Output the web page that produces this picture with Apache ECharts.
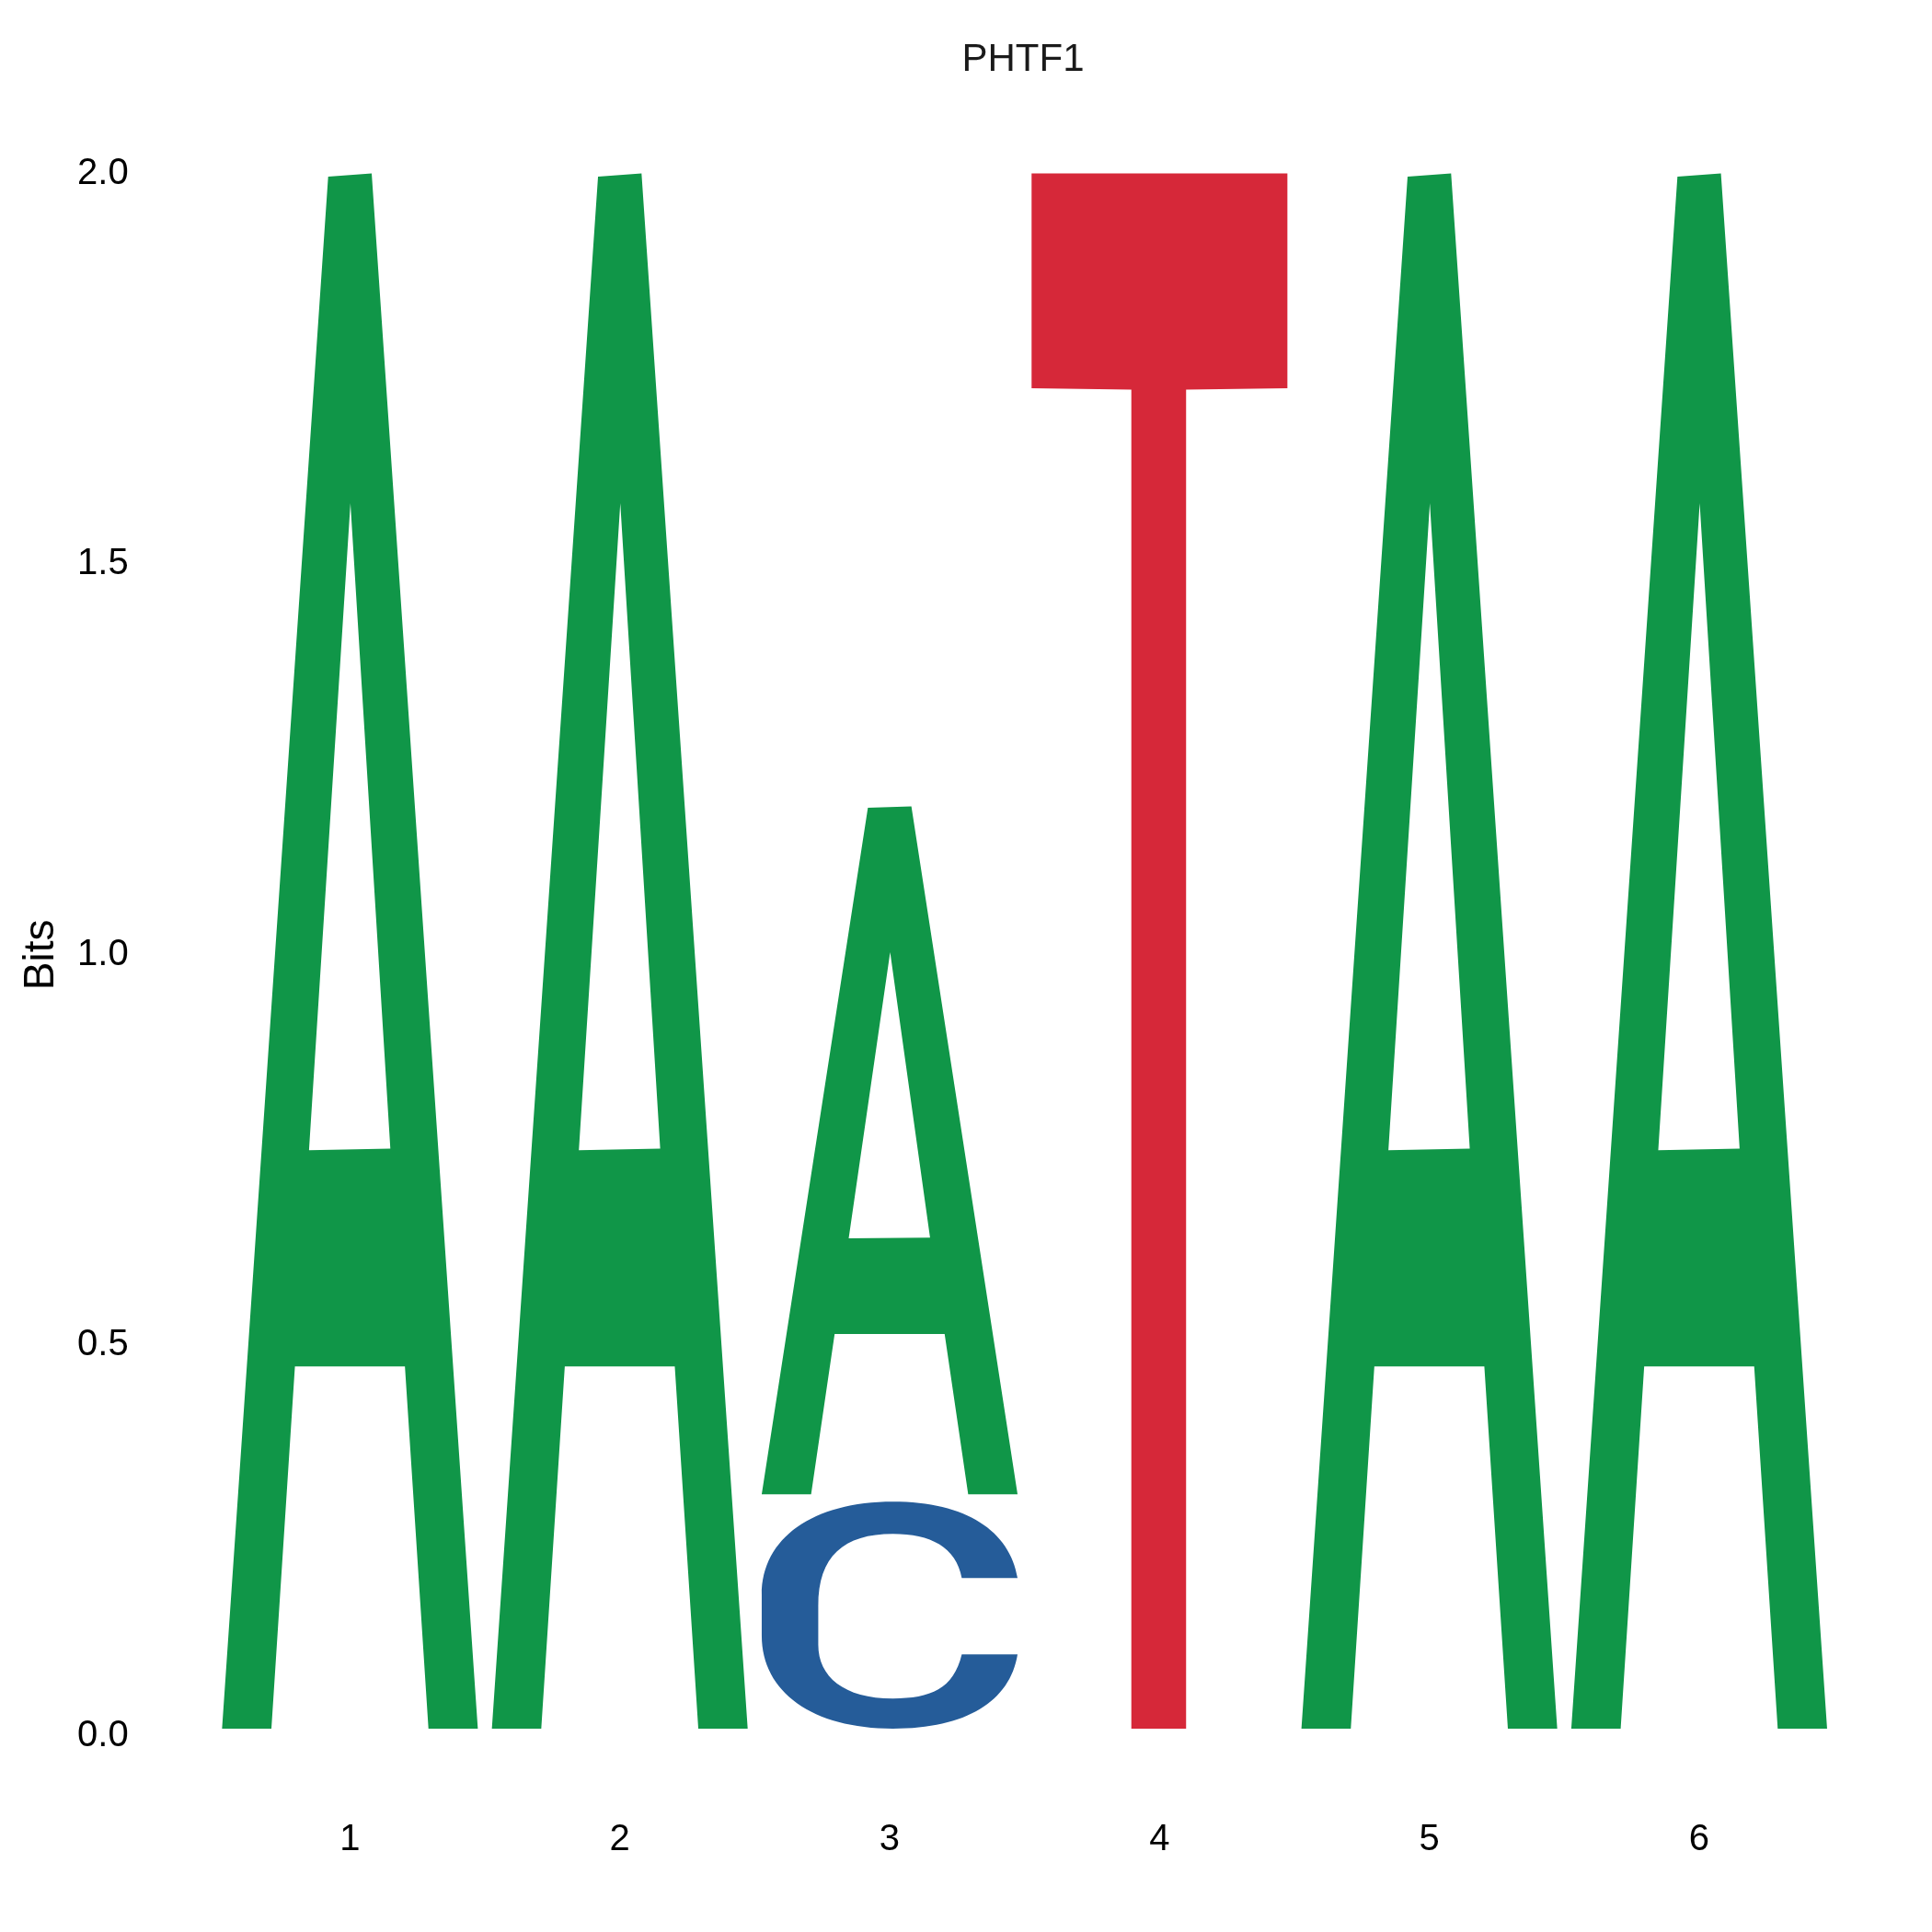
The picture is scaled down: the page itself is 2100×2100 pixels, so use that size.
<!DOCTYPE html>
<html>
<head>
<meta charset="utf-8">
<script src="https://cdn.jsdelivr.net/npm/echarts@6/dist/echarts.min.js"></script>
<style>
html,body{margin:0;padding:0;background:#ffffff;}
#chart{width:2100px;height:2100px;}
</style>
</head>
<body>
<div id="chart"></div>
<script>
// ---------------- data ----------------
const chartTitle = 'PHTF1';
const yAxisName = 'Bits';
const positions = ['1', '2', '3', '4', '5', '6'];
const letterNames = ['A', 'C', 'G', 'T'];
const bitsA = [2.0, 2.0, 0.89, 0, 2.0, 2.0];
const bitsC = [0, 0, 0.30, 0, 0, 0];
const bitsG = [0, 0, 0, 0, 0, 0];
const bitsT = [0, 0, 0, 2.0, 0, 0];
const yTicks = [0, 0.5, 1.0, 1.5, 2.0];

// ---------------- style ----------------
const letterColors = { A: '#109648', C: '#255C99', G: '#F7B32B', T: '#D62839' };
const LETTER_WIDTH = 0.948;   // fraction of one position band
const LETTER_GAP_PX = 8;      // small gap under every letter
const FONT = 'Liberation Sans, Arial, Helvetica, sans-serif';

// glyph outlines in a unit box (x: 0..1 left->right, y: 0..1 bottom->top)
const glyphs = {
  A: [
    ['M', 0, 0], ['L', 0.193, 0], ['L', 0.285, 0.233], ['L', 0.715, 0.233],
    ['L', 0.807, 0], ['L', 1, 0], ['L', 0.585, 1], ['L', 0.415, 0.998], ['Z'],
    ['M', 0.502, 0.788], ['L', 0.658, 0.373], ['L', 0.340, 0.372], ['Z']
  ],
  T: [
    ['M', 0.390, 0], ['L', 0.604, 0], ['L', 0.604, 0.861], ['L', 1, 0.862],
    ['L', 1, 1], ['L', 0, 1], ['L', 0, 0.862], ['L', 0.390, 0.861], ['Z']
  ],
  C: [
    ['M', 1, 0.664],
    ['C', 0.97, 0.87, 0.80, 1.0, 0.513, 1.0],
    ['C', 0.20, 1.0, 0, 0.84, 0, 0.59],
    ['L', 0, 0.41],
    ['C', 0, 0.16, 0.20, 0, 0.513, 0],
    ['C', 0.80, 0, 0.97, 0.12, 1, 0.327],
    ['L', 0.782, 0.327],
    ['C', 0.75, 0.175, 0.66, 0.133, 0.513, 0.133],
    ['C', 0.32, 0.133, 0.221, 0.23, 0.221, 0.37],
    ['L', 0.221, 0.54],
    ['C', 0.221, 0.76, 0.32, 0.858, 0.513, 0.858],
    ['C', 0.66, 0.858, 0.76, 0.80, 0.782, 0.664],
    ['Z']
  ]
};

// ---------------- build stacked letter items ----------------
const bitsByLetter = { A: bitsA, C: bitsC, G: bitsG, T: bitsT };
const stackData = [];
positions.forEach(function (p, i) {
  const items = letterNames
    .map(function (L, li) { return { li: li, h: bitsByLetter[L][i] }; })
    .filter(function (o) { return o.h > 0; })
    .sort(function (a, b) { return a.h - b.h; });
  let base = 0;
  items.forEach(function (o) {
    stackData.push([i, base, base + o.h, o.li]);
    base += o.h;
  });
});

function renderLetter(params, api) {
  const idx = api.value(0);
  const y0 = api.value(1);
  const y1 = api.value(2);
  const L = letterNames[api.value(3)];
  const g = glyphs[L];
  if (!g) return null;
  const band = api.size([1, 0])[0];
  const w = band * LETTER_WIDTH;
  const pBottom = api.coord([idx, y0]);
  const pTop = api.coord([idx, y1]);
  const left = pBottom[0] - w / 2;
  const bottom = pBottom[1] - LETTER_GAP_PX;
  const top = pTop[1];
  const h = bottom - top;
  const X = function (u) { return (left + u * w).toFixed(2); };
  const Y = function (v) { return (bottom - v * h).toFixed(2); };
  let d = '';
  g.forEach(function (c) {
    if (c[0] === 'Z') { d += 'Z '; return; }
    d += c[0];
    for (let k = 1; k < c.length; k += 2) {
      d += ' ' + X(c[k]) + ' ' + Y(c[k + 1]);
    }
    d += ' ';
  });
  return {
    type: 'path',
    shape: { pathData: d },
    style: { fill: letterColors[L], stroke: null }
  };
}

const chart = echarts.init(document.getElementById('chart'), null, { renderer: 'canvas' });
chart.setOption({
  animation: false,
  backgroundColor: '#ffffff',
  title: {
    text: chartTitle,
    left: 1112,
    top: 44,
    textAlign: 'center',
    padding: 0,
    textStyle: { fontFamily: FONT, fontSize: 42, fontWeight: 'normal', color: '#1a1a1a' }
  },
  grid: {
    left: 233.7, right: 106.4, top: 188.6, bottom: 213,
    containLabel: false, outerBoundsMode: 'none'
  },
  xAxis: {
    type: 'category',
    data: positions,
    boundaryGap: true,
    axisLine: { show: false },
    axisTick: { show: false },
    splitLine: { show: false },
    axisLabel: { margin: 93, fontFamily: FONT, fontSize: 40, color: '#000000' }
  },
  yAxis: {
    type: 'value',
    min: yTicks[0],
    max: yTicks[yTicks.length - 1],
    interval: yTicks[1] - yTicks[0],
    name: yAxisName,
    nameLocation: 'middle',
    nameGap: 165,
    nameTextStyle: { fontFamily: FONT, fontSize: 46, color: '#000000' },
    axisLine: { show: false },
    axisTick: { show: false },
    splitLine: { show: false },
    axisLabel: {
      margin: 94, fontFamily: FONT, fontSize: 40, color: '#000000',
      formatter: function (v) { return v.toFixed(1); }
    }
  },
  series: [{
    type: 'custom',
    renderItem: renderLetter,
    encode: { x: 0, y: [1, 2] },
    data: stackData,
    clip: false
  }]
});
</script>
</body>
</html>
